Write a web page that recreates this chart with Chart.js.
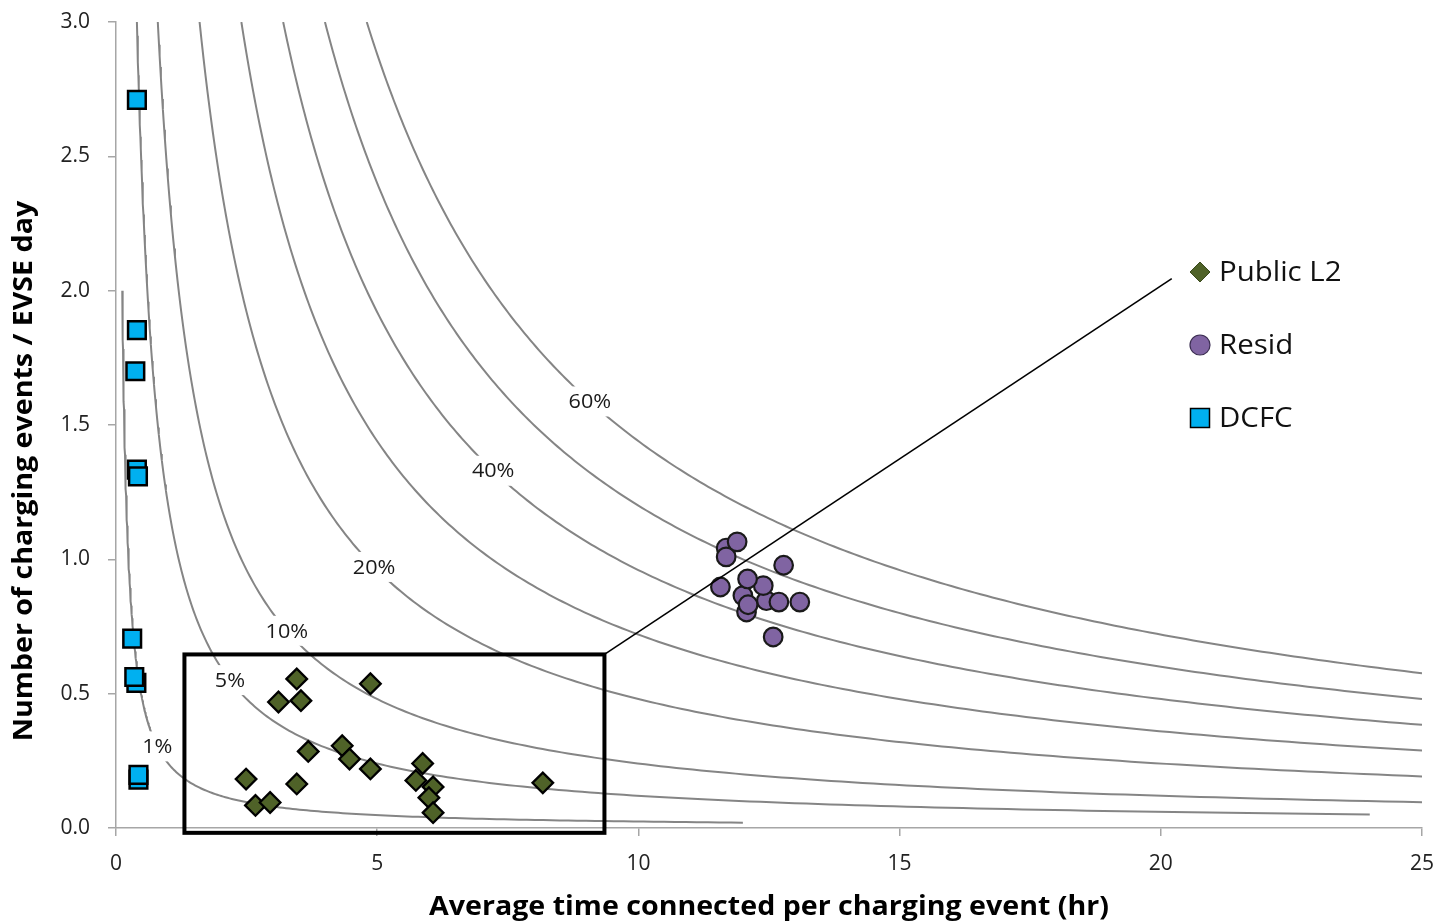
<!DOCTYPE html>
<html>
<head>
<meta charset="utf-8">
<title>EVSE utilisation</title>
<script src="https://cdn.jsdelivr.net/npm/chart.js@4.4.1/dist/chart.umd.min.js"></script>
<style>
  html, body { margin: 0; padding: 0; background: #ffffff; }
  #wrap { width: 1441px; height: 924px; }
</style>
</head>
<body>
<div id="wrap"><canvas id="chart" width="1441" height="924"></canvas></div>
<script>
// Iso-utilisation curves: events/day x hours/event / 24 h = utilisation
const utilLevels = [0.01, 0.05, 0.10, 0.20, 0.30, 0.40, 0.50, 0.60];
const utilLabels = ['1%', '5%', '10%', '20%', '', '40%', '', '60%'];
const utilTopY   = [2.0, 3.0, 3.0, 3.0, 3.0, 3.0, 3.0, 3.0];   // events/day where each curve starts
const utilEndX   = [12, 24, 25, 25, 25, 25, 25, 25];           // hours where each curve stops

// Public level 2 chargers
const publicL2X = [3.46, 3.11, 3.54, 4.87, 3.68, 4.33, 4.47, 4.87, 2.49, 3.46, 2.67, 2.95, 5.87, 5.74, 6.07, 5.99, 6.07, 8.17];
const publicL2Y = [0.555, 0.469, 0.474, 0.537, 0.285, 0.306, 0.257, 0.220, 0.182, 0.164, 0.084, 0.095, 0.240, 0.177, 0.153, 0.113, 0.057, 0.168];

// Residential chargers
const residX = [11.68, 11.68, 11.89, 12.78, 11.57, 12.00, 12.07, 12.45, 12.39, 12.09, 12.69, 13.09, 12.10, 12.58];
const residY = [1.042, 1.009, 1.065, 0.978, 0.897, 0.865, 0.804, 0.846, 0.902, 0.927, 0.841, 0.841, 0.831, 0.711];

// DC fast chargers
const dcfcX = [0.40, 0.40, 0.37, 0.40, 0.42, 0.31, 0.39, 0.35, 0.43, 0.43];
const dcfcY = [2.710, 1.853, 1.700, 1.334, 1.309, 0.705, 0.540, 0.562, 0.180, 0.198];

const seriesNames = ['Public L2', 'Resid', 'DCFC'];
const xTickLabels = ['0', '5', '10', '15', '20', '25'];
const yTickLabels = ['0.0', '0.5', '1.0', '1.5', '2.0', '2.5', '3.0'];
const xTitle = 'Average time connected per charging event (hr)';
const yTitle = 'Number of charging events / EVSE day';

const FONT = "'Open Sans', 'Liberation Sans', sans-serif";
Chart.defaults.font.family = FONT;

function pairs(xs, ys) { return xs.map((x, i) => ({ x: x, y: ys[i] })); }

function isoCurve(u, yTop, xEnd) {
  const k = 24 * u;            // y = k / x
  const x0 = k / yTop;
  const pts = [];
  const n = 240;
  for (let i = 0; i <= n; i++) {
    const x = x0 * Math.pow(xEnd / x0, i / n);
    pts.push({ x: x, y: k / x });
  }
  return pts;
}

const scatterSets = [
  { label: seriesNames[0], data: pairs(publicL2X, publicL2Y), pointStyle: 'rectRot', pointRadius: 10.3,
    backgroundColor: '#4F6228', borderColor: '#000000', borderWidth: 2.3, order: 0 },
  { label: seriesNames[1], data: pairs(residX, residY), pointStyle: 'circle', pointRadius: 9.3,
    backgroundColor: '#8064A2', borderColor: '#1a1a1a', borderWidth: 2.2, order: 0 },
  { label: seriesNames[2], data: pairs(dcfcX, dcfcY), pointStyle: 'rect', pointRadius: 12.5,
    backgroundColor: '#00B0F0', borderColor: '#000000', borderWidth: 2.5, order: 0 }
];

const curveSets = utilLevels.map((u, i) => ({
  label: utilLabels[i] || (Math.round(u * 100) + '%'),
  isoLevel: u,
  data: isoCurve(u, utilTopY[i], utilEndX[i]),
  showLine: true,
  pointRadius: 0,
  borderColor: '#858585',
  borderWidth: 2,
  fill: false,
  order: 1
}));

// text drawn with a slight horizontal stretch
function wideText(ctx, text, x, y, stretch) {
  ctx.save();
  ctx.translate(x, y);
  ctx.scale(stretch, 1);
  ctx.fillText(text, 0, 0);
  ctx.restore();
}

// White-backed labels sitting on the iso-utilisation curves
const isoLabelPlugin = {
  id: 'isoLabels',
  beforeDatasetsDraw(chart) { chart.$isoDrawn = 0; },
  afterDatasetDraw(chart, args, opts) {
    const ds = chart.data.datasets[args.index];
    if (ds.isoLevel === undefined) return;
    chart.$isoDrawn += 1;
    if (chart.$isoDrawn < curveSets.length) return;
    const { ctx, scales: { x, y } } = chart;
    ctx.save();
    ctx.font = '20px ' + FONT;
    ctx.textAlign = 'center';
    ctx.textBaseline = 'middle';
    utilLevels.forEach((u, i) => {
      const text = utilLabels[i];
      const at = opts.labelAt[i];
      if (!text || at == null) return;
      const px = x.getPixelForValue(at);
      const py = y.getPixelForValue(24 * u / at);
      const w = ctx.measureText(text).width * 1.08 + 10;
      const h = 30;
      ctx.fillStyle = '#ffffff';
      ctx.fillRect(px - w / 2, py - h / 2, w, h);
      ctx.fillStyle = '#1a1a1a';
      wideText(ctx, text, px, py + 1, 1.08);
    });
    ctx.restore();
  }
};

// Highlight box, leader line, legend and axis titles
const calloutPlugin = {
  id: 'callout',
  afterDraw(chart, args, opts) {
    const { ctx, scales: { x, y } } = chart;
    const b = opts.box;
    const x1 = x.getPixelForValue(b.x1), x2 = x.getPixelForValue(b.x2);
    const y1 = y.getPixelForValue(b.y1), y2 = y.getPixelForValue(b.y2);
    ctx.save();
    ctx.strokeStyle = '#000000';
    ctx.lineWidth = 4;
    ctx.strokeRect(x1, y2, x2 - x1, y1 - y2);

    ctx.lineWidth = 1.6;
    ctx.beginPath();
    ctx.moveTo(x2, y2);
    ctx.lineTo(x.getPixelForValue(opts.leaderTo.x), y.getPixelForValue(opts.leaderTo.y));
    ctx.stroke();

    // legend
    const L = opts.legend;
    ctx.font = L.fontSize + 'px ' + FONT;
    ctx.textAlign = 'left';
    ctx.textBaseline = 'middle';
    scatterSets.forEach((ds, i) => {
      const cx = L.x, cy = L.y + i * L.gap;
      ctx.beginPath();
      if (ds.pointStyle === 'rectRot') {
        const r = 10;
        ctx.moveTo(cx, cy - r); ctx.lineTo(cx + r, cy); ctx.lineTo(cx, cy + r); ctx.lineTo(cx - r, cy); ctx.closePath();
        ctx.fillStyle = ds.backgroundColor; ctx.fill();
        ctx.lineWidth = 1; ctx.strokeStyle = '#3a4a1c'; ctx.stroke();
      } else if (ds.pointStyle === 'circle') {
        ctx.arc(cx, cy, 10, 0, Math.PI * 2);
        ctx.fillStyle = ds.backgroundColor; ctx.fill();
        ctx.lineWidth = 1.2; ctx.strokeStyle = '#3b2d52'; ctx.stroke();
      } else {
        const s = 9.5;
        ctx.rect(cx - s, cy - s, 2 * s, 2 * s);
        ctx.fillStyle = ds.backgroundColor; ctx.fill();
        ctx.lineWidth = 1.5; ctx.strokeStyle = '#000000'; ctx.stroke();
      }
      ctx.fillStyle = '#111111';
      wideText(ctx, ds.label, L.textX, cy + 1, 1.09);
    });

    // axis titles
    const T = opts.titles;
    ctx.font = 'bold 26px ' + FONT;
    ctx.textAlign = 'center';
    ctx.textBaseline = 'middle';
    ctx.fillStyle = '#000000';
    wideText(ctx, xTitle, (chart.chartArea.left + chart.chartArea.right) / 2, T.xTitleY, T.stretch);
    ctx.translate(T.yTitleX, T.yTitleY);
    ctx.rotate(-Math.PI / 2);
    wideText(ctx, yTitle, 0, 0, T.stretch);
    ctx.restore();
  }
};

const axisGrey = '#a6a6a6';
const tickFont = { family: FONT, size: 21 };

new Chart(document.getElementById('chart'), {
  type: 'scatter',
  data: { datasets: scatterSets.concat(curveSets) },
  options: {
    responsive: false,
    animation: false,
    events: [],
    layout: { padding: { top: 22, right: 19, bottom: 0, left: 0 } },
    plugins: {
      legend: { display: false },
      tooltip: { enabled: false },
      isoLabels: { labelAt: [0.79, 2.18, 3.27, 4.94, null, 7.22, null, 9.07] },
      callout: {
        box: { x1: 1.31, x2: 9.35, y1: -0.018, y2: 0.646 },
        leaderTo: { x: 20.21, y: 2.045 },
        legend: { x: 1200, y: 272, gap: 73, textX: 1219, fontSize: 27 },
        titles: { xTitleY: 908, yTitleX: 25, yTitleY: 471, stretch: 1.1 }
      }
    },
    scales: {
      x: {
        type: 'linear', min: 0, max: 25,
        ticks: { stepSize: 5, font: tickFont, color: '#222222', padding: 15,
                 callback: (v, i) => xTickLabels[i] },
        grid: { drawOnChartArea: false, drawTicks: true, tickLength: 8, color: axisGrey, lineWidth: 1.5 },
        border: { color: axisGrey, width: 1.5 },
        afterFit: (s) => { s.height = 96; s.paddingLeft = 0; s.paddingRight = 0; }
      },
      y: {
        type: 'linear', min: 0, max: 3,
        ticks: { stepSize: 0.5, font: tickFont, color: '#222222', padding: 18,
                 callback: (v, i) => yTickLabels[i] },
        grid: { drawOnChartArea: false, drawTicks: true, tickLength: 8, color: axisGrey, lineWidth: 1.5 },
        border: { color: axisGrey, width: 1.5 },
        afterFit: (s) => { s.width = 116; s.paddingTop = 0; s.paddingBottom = 0; }
      }
    }
  },
  plugins: [isoLabelPlugin, calloutPlugin]
});
</script>
</body>
</html>
